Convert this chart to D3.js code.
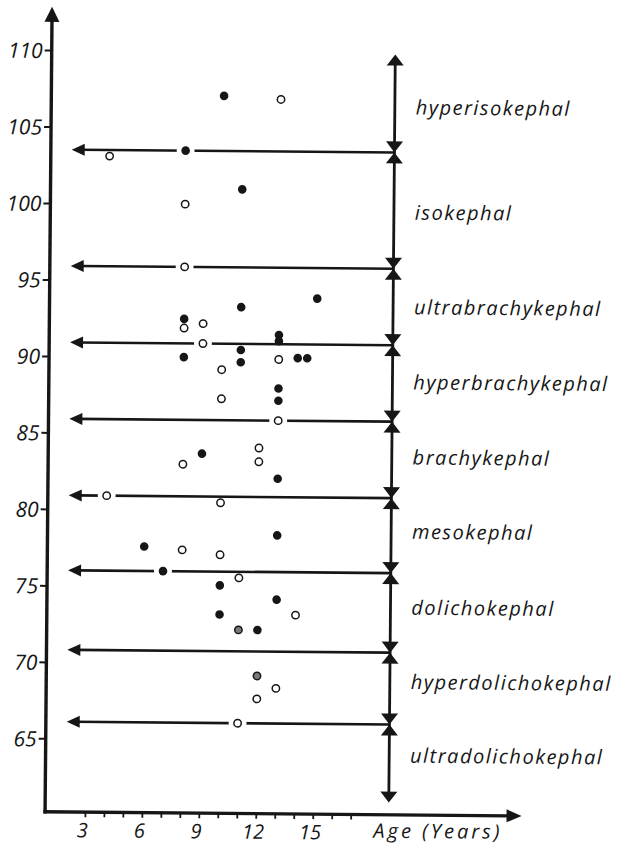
<!DOCTYPE html>
<html><head><meta charset="utf-8">
<script src="https://cdn.jsdelivr.net/npm/d3@7"></script>
<style>
html,body{margin:0;padding:0;background:#fff;}
svg text{font-family:"Open Sans","Noto Sans","DejaVu Sans",sans-serif;font-style:italic;fill:#161616;}
</style>
</head><body>
<svg id="chart" width="620" height="845"></svg>
<script>
// ---- data ----
const categories = ["hyperisokephal","isokephal","ultrabrachykephal","hyperbrachykephal","brachykephal","mesokephal","dolichokephal","hyperdolichokephal","ultradolichokephal"];
const boundaries = [103.5, 95.9, 90.9, 85.9, 80.9, 76.0, 70.8, 66.1];
const yTicks = [65, 70, 75, 80, 85, 90, 95, 100, 105, 110];
const xMinorTicks = [3,4,5,6,7,8,9,10,11,12,13,14,15,16,17];
const xTickLabels = [3, 6, 9, 12, 15];

const filledAge   = [10, 8, 11, 15, 11, 8, 8, 13, 13, 11, 11, 14, 14.5, 13, 13, 9, 13, 13, 6, 7, 10, 10, 13, 12];
const filledIndex = [107.1, 103.5, 101.0, 93.9, 93.3, 92.5, 90.0, 91.5, 91.1, 90.5, 89.7, 90.0, 90.0, 88.0, 87.2, 83.7, 82.1, 78.4, 77.6, 76.0, 75.1, 73.2, 74.2, 72.2];
const openAge     = [13, 4, 8, 8, 8, 9, 9, 13, 10, 10, 13, 8, 12, 12, 4, 10, 8, 10, 11, 14, 13, 12, 11];
const openIndex   = [106.9, 103.1, 100.0, 95.9, 91.9, 92.2, 90.9, 89.9, 89.2, 87.3, 85.9, 83.0, 84.1, 83.2, 80.9, 80.5, 77.4, 77.1, 75.6, 73.2, 68.4, 67.7, 66.1];
const mixedAge    = [11, 12];
const mixedIndex  = [72.2, 69.2];

// chart structure (in data units)
const lineStartAge = 2, dividerAge = 19, dividerTop = 109.9, dividerBottom = 61;

// ---- drawing ----
const ink = "#161616";
const svg = d3.select("#chart");
svg.append("rect").attr("width",620).attr("height",845).attr("fill","#fff");
const g = svg.append("g").attr("transform","rotate(0.5 300 420)");

const x = d3.scaleLinear().domain([0.9, 26]).range([48.5, 525]);
const y = d3.scaleLinear().domain([60.2, 110]).range([814, 52.2]);
const x0 = x.range()[0], y0 = y.range()[0];

// y axis
const yAxis = g.append("g").attr("transform",`translate(${x0},0)`)
  .call(d3.axisLeft(y).tickValues(yTicks).tickSize(7).tickPadding(2).tickFormat(d3.format("d")));
yAxis.select(".domain").remove();
yAxis.selectAll(".tick line").attr("stroke",ink).attr("stroke-width",2);
yAxis.selectAll(".tick text").attr("font-size",21).attr("fill",ink).attr("font-family",null).attr("dy","0.36em");
g.append("line").attr("x1",x0).attr("x2",x0).attr("y1",y0+1.7).attr("y2",20)
  .attr("stroke",ink).attr("stroke-width",3.4);
g.append("path").attr("d",`M${x0},9 L${x0-7.5},24 L${x0+7.5},24 Z`).attr("fill",ink);

// x axis
const xAxis = g.append("g").attr("transform",`translate(0,${y0})`)
  .call(d3.axisBottom(x).tickValues(xMinorTicks).tickSize(5).tickPadding(6)
    .tickFormat(d => xTickLabels.includes(d) ? d : ""));
xAxis.select(".domain").remove();
xAxis.selectAll(".tick line").attr("stroke",ink).attr("stroke-width",1.8);
xAxis.selectAll(".tick text").attr("font-size",20).attr("fill",ink).attr("font-family",null).attr("dx",-3);
g.append("line").attr("x1",x0-1.7).attr("x2",512).attr("y1",y0).attr("y2",y0)
  .attr("stroke",ink).attr("stroke-width",3.4);
g.append("path").attr("d",`M525,${y0} L510,${y0-6.5} L510,${y0+6.5} Z`).attr("fill",ink);
g.append("text").attr("x",377).attr("y",y0+23).attr("font-size",20).attr("letter-spacing",3).text("Age (Years)");

// horizontal class boundaries with left arrows
const xs = x(lineStartAge), xd = x(dividerAge);
g.selectAll("line.bound").data(boundaries).join("line").attr("class","bound")
  .attr("x1",xs+8).attr("x2",xd).attr("y1",d=>y(d)).attr("y2",d=>y(d))
  .attr("stroke",ink).attr("stroke-width",2.6);
g.selectAll("path.barrow").data(boundaries).join("path").attr("class","barrow")
  .attr("d",d=>`M${xs},${y(d)} L${xs+13},${y(d)-6} L${xs+13},${y(d)+6} Z`).attr("fill",ink);

// vertical double arrows
const stops = [dividerTop, ...boundaries, dividerBottom];
g.append("line").attr("x1",xd).attr("x2",xd).attr("y1",y(dividerTop)+6).attr("y2",y(dividerBottom)-6)
  .attr("stroke",ink).attr("stroke-width",2.8);
const ah = 11, aw = 8.5;
stops.forEach((v,i) => {
  const yy = y(v);
  if (i < stops.length-1)
    g.append("path").attr("d",`M${xd},${yy} L${xd-aw},${yy+ah} L${xd+aw},${yy+ah} Z`).attr("fill",ink);
  if (i > 0)
    g.append("path").attr("d",`M${xd},${yy} L${xd-aw},${yy-ah} L${xd+aw},${yy-ah} Z`).attr("fill",ink);
});

// class labels in each band (slightly drawn toward the middle of the column, as in the original)
const midBand = (y(stops[0]) + y(stops[stops.length-1]))/2;
g.selectAll("text.cat").data(categories).join("text").attr("class","cat")
  .attr("x",413)
  .attr("y",(d,i)=> { const m = (y(stops[i]) + y(stops[i+1]))/2; return midBand + (m - midBand)*0.982; })
  .attr("dy","0.25em").attr("font-size",20).attr("letter-spacing",1.5).text(d=>d);

// points
const filled = filledAge.map((a,i)=>({age:a, v:filledIndex[i], type:"filled"}));
const open = openAge.map((a,i)=>({age:a, v:openIndex[i], type:"open"}));
const mixed = mixedAge.map((a,i)=>({age:a, v:mixedIndex[i], type:"mixed"}));
const all = [...filled, ...open, ...mixed];

// white gaps where a point sits on a boundary line
g.selectAll("circle.halo").data(all.filter(d=>boundaries.includes(d.v))).join("circle").attr("class","halo")
  .attr("cx",d=>x(d.age)).attr("cy",d=>y(d.v)).attr("r",9).attr("fill","#fff");

g.selectAll("circle.pt").data(all).join("circle").attr("class","pt")
  .attr("cx",d=>x(d.age)).attr("cy",d=>y(d.v))
  .attr("r",d=>d.type==="filled"?4.3:3.7)
  .attr("fill",d=>d.type==="filled"?ink:(d.type==="mixed"?"#7a7a7a":"#fff"))
  .attr("stroke",d=>d.type==="filled"?"none":ink)
  .attr("stroke-width",1.5);
</script>
</body></html>
